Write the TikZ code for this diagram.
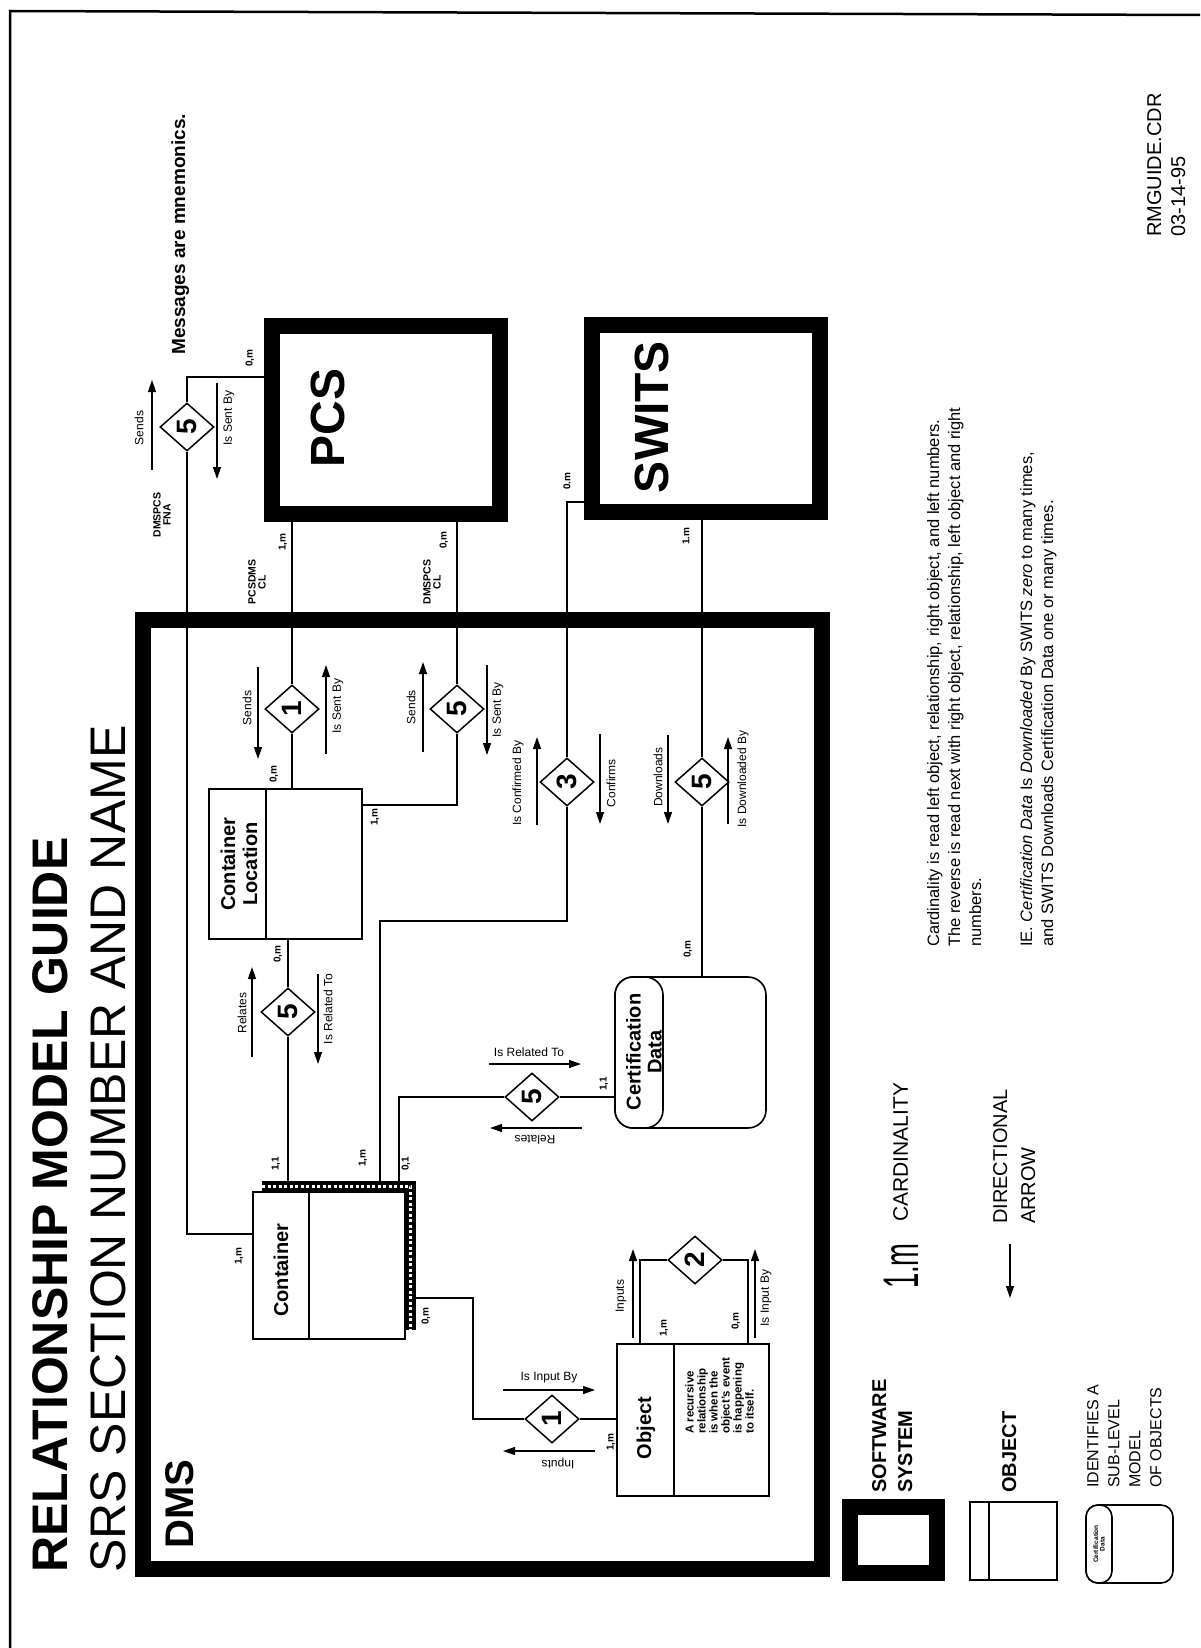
\documentclass[tikz,border=0pt]{standalone}
\usepackage{fontspec}
\setmainfont{Liberation Sans}
\usetikzlibrary{shapes.geometric, arrows.meta}

\begin{document}
\begin{tikzpicture}[
  x=1pt, y=1pt,
  every node/.style={inner sep=0pt, align=center},
  sys/.style={rectangle, draw=black, line width=16pt},
  obj/.style={rectangle, draw=black, line width=1.6pt, fill=white},
  subobj/.style={rectangle, draw=black, line width=1.6pt, fill=white, rounded corners=18pt},
  rel/.style={diamond, draw=black, line width=1.5pt, fill=white, rotate=90,
    minimum width=48pt, minimum height=54pt, font=\bfseries\fontsize{28}{28}\selectfont},
  conn/.style={line width=1.5pt},
  dirarrow/.style={line width=1.3pt, -{Triangle[length=12pt, width=8pt]}},
  lbl/.style={rotate=90, font=\fontsize{12}{13}\selectfont},
  card/.style={rotate=90, font=\bfseries\fontsize{10}{11}\selectfont},
  msg/.style={rotate=90, font=\bfseries\fontsize{10.5}{10}\selectfont},
  objname/.style={rotate=90, font=\bfseries\fontsize{20}{22}\selectfont},
  bigname/.style={rotate=90, font=\bfseries\fontsize{48}{50}\selectfont},
  legtxt/.style={rotate=90, anchor=north west, align=left},
  hatch/.style={white, line width=3pt, dash pattern=on 3pt off 2.5pt}
]
\useasboundingbox (0,0) rectangle (1200,-1648);

% page frame
\draw[line width=2.5pt] (10,-1648) -- (10,-11) -- (1200,-15);

% headings
\node[rotate=90, anchor=base west, font=\bfseries\fontsize{50}{50}\selectfont] (title) at (67,-1573) {RELATIONSHIP MODEL GUIDE};
\node[rotate=90, anchor=base west, font=\fontsize{50}{50}\selectfont] (srs) at (125,-1573) {SRS SECTION NUMBER AND NAME};
\node[rotate=90, anchor=base west, font=\bfseries\fontsize{19}{19}\selectfont] (mnemo) at (185,-355) {Messages are mnemonics.};

% software systems
\node[sys, minimum width=679pt, minimum height=949pt] (dms) at (482.5,-1094.5) {};
\node[rotate=90, anchor=base west, font=\bfseries\fontsize{40}{40}\selectfont] (dmsname) at (193,-1549) {DMS};
\node[sys, minimum width=228pt, minimum height=188pt] (pcs) at (386,-420) {};
\node[bigname] (pcsname) at (328,-418) {PCS};
\node[sys, minimum width=228pt, minimum height=187pt] (swits) at (706,-418.5) {};
\node[bigname] (switsname) at (652,-417) {SWITS};

% objects
\node[obj, minimum width=153pt, minimum height=150pt] (cl) at (285.5,-864) {};
\draw[line width=1.6pt] ([xshift=58pt]cl.north west) -- ([xshift=58pt]cl.south west);
\node[objname] (clname) at (239,-864) {Container\\Location};

\node[obj, minimum width=152pt, minimum height=147pt, fill=black] (contsh) at (339,-1255.5) {};
\draw[hatch] ([yshift=-5pt]contsh.north west) -- ([shift={(-5pt,-5pt)}]contsh.north east) -- ([xshift=-5pt]contsh.south east);
\node[obj, minimum width=152pt, minimum height=147pt] (cont) at (329,-1265.5) {};
\draw[line width=1.6pt] ([xshift=57pt]cont.north west) -- ([xshift=57pt]cont.south west);
\node[objname] (contname) at (281,-1270) {Container};

\node[obj, minimum width=152pt, minimum height=152pt] (obj) at (693,-1420) {};
\draw[line width=1.6pt] ([xshift=58pt]obj.north west) -- ([xshift=58pt]obj.south west);
\node[objname] (objname) at (646,-1428) {Object};
\node[legtxt, font=\bfseries\fontsize{11.5}{12}\selectfont] (objnote) at (685,-1434) {A recursive\\relationship\\is when the\\object's event\\is happening\\to itself.};

\node[subobj, minimum width=151pt, minimum height=151pt] (cert) at (690.5,-1052.5) {};
\node[subobj, minimum width=48pt, minimum height=151pt, anchor=west] (certcap) at (cert.west) {};
\node[objname, font=\bfseries\fontsize{20}{21}\selectfont] (certname) at (644,-1052) {Certification\\Data};

% relationships
\node[rel] (d5a) at (187,-427) {5};
\node[rel] (d1a) at (292,-709) {1};
\node[rel] (d5b) at (457,-709) {5};
\node[rel] (d3) at (567,-782) {3};
\node[rel] (d5c) at (702,-782) {5};
\node[rel] (d5d) at (288,-1012) {5};
\node[rel] (d5e) at (532,-1097) {5};
\node[rel] (d1b) at (552,-1419) {1};
\node[rel] (d2) at (695,-1260) {2};

% connectors
\coordinate (k1) at (187,-377);
\coordinate (k2) at (187,-1234);
\coordinate (k3) at (457,-805);
\coordinate (k4) at (567,-502);
\coordinate (k5) at (380,-921);
\coordinate (k6) at (399,-1097);
\coordinate (k7) at (473,-1298);
\coordinate (k8) at (640,-1260);
\coordinate (k9) at (748,-1260);
\draw[conn] (pcs.west |- k1) -- (k1) -- (d5a) -- (k2) -- (cont.west |- k2);
\draw[conn] (pcs.south -| d1a) -- (d1a) -- (cl.north -| d1a);
\draw[conn] (pcs.south -| d5b) -- (d5b) -- (k3) -- (cl.east |- k3);
\draw[conn] (swits.west |- k4) -- (k4) -- (d3);
\draw[conn] (d3) |- (k5) -- (contsh.north -| k5);
\draw[conn] (swits.south -| d5c) -- (d5c) -- (cert.north -| d5c);
\draw[conn] (cl.south -| d5d) -- (d5d) -- (contsh.north -| d5d);
\draw[conn] (contsh.north -| k6) -- (k6) -- (d5e) -- (cert.west |- d5e);
\draw[conn] (contsh.east |- k7) -- (k7) |- (d1b) -- (obj.west |- d1b);
\draw[conn] (obj.north -| k8) -- (k8) -- (d2) -- (k9) -- (obj.north -| k9);

% message labels
\node[msg] (fna) at (162,-515) {DMSPCS\\FNA};
\node[msg] (pcscl) at (257,-582) {PCSDMS\\CL};
\node[msg] (dmscl) at (432,-582) {DMSPCS\\CL};

% cardinality
\node[card] (ca1) at (250,-358) {0,m};
\node[card] (ca2) at (239,-1256) {1,m};
\node[card] (cb1) at (283,-542) {1,m};
\node[card] (cb2) at (274,-774) {0,m};
\node[card] (cc1) at (444,-540) {0,m};
\node[card] (cc2) at (375,-817) {1,m};
\node[card] (cd1) at (567,-481) {0.m};
\node[card] (cd2) at (363,-1158) {1,m};
\node[card] (ce1) at (686,-536) {1.m};
\node[card] (ce2) at (688,-949) {0,m};
\node[card] (cf1) at (278,-954) {0,m};
\node[card] (cf2) at (276,-1164) {1,1};
\node[card] (cg1) at (406,-1164) {0,1};
\node[card] (cg2) at (604,-1084) {1,1};
\node[card] (ch1) at (426,-1316) {0,m};
\node[card] (ch2) at (611,-1442) {1,m};
\node[card] (ci1) at (664,-1328) {1,m};
\node[card] (ci2) at (736,-1321) {0,m};

% directional arrows
\draw[dirarrow] ([shift={(-35,-43)}]d5a.center) -- ++(0,90);
\draw[dirarrow] ([shift={(30,44)}]d5a.center) -- ++(0,-96);
\draw[dirarrow] ([shift={(-34,42)}]d1a.center) -- ++(0,-92);
\draw[dirarrow] ([shift={(34,-45)}]d1a.center) -- ++(0,89);
\draw[dirarrow] ([shift={(-34,-43)}]d5b.center) -- ++(0,90);
\draw[dirarrow] ([shift={(30,44)}]d5b.center) -- ++(0,-90);
\draw[dirarrow] ([shift={(-30,-43)}]d3.center) -- ++(0,88);
\draw[dirarrow] ([shift={(33,48)}]d3.center) -- ++(0,-90);
\draw[dirarrow] ([shift={(-34,47)}]d5c.center) -- ++(0,-89);
\draw[dirarrow] ([shift={(26,-42)}]d5c.center) -- ++(0,87);
\draw[dirarrow] ([shift={(-36,-45)}]d5d.center) -- ++(0,90);
\draw[dirarrow] ([shift={(30,38)}]d5d.center) -- ++(0,-90);
\draw[dirarrow] ([shift={(-43,33)}]d5e.center) -- ++(92,0);
\draw[dirarrow] ([shift={(50,-31)}]d5e.center) -- ++(-92,0);
\draw[dirarrow] ([shift={(-49,29)}]d1b.center) -- ++(92,0);
\draw[dirarrow] ([shift={(43,-32)}]d1b.center) -- ++(-92,0);
\draw[dirarrow] ([shift={(-62,-78)}]d2.center) -- ++(0,89);
\draw[dirarrow] ([shift={(60,-78)}]d2.center) -- ++(0,89);

% relationship names
\node[lbl] (sendsa) at (139,-428) {Sends};
\node[lbl] (sentbya) at (229,-418) {Is Sent By};
\node[lbl] (sendsb) at (247,-708) {Sends};
\node[lbl] (sentbyb) at (338,-706) {Is Sent By};
\node[lbl] (sendsc) at (411,-707) {Sends};
\node[lbl] (sentbyc) at (498,-710) {Is Sent By};
\node[lbl] (confby) at (518,-783) {Is Confirmed By};
\node[lbl] (confirms) at (611,-783) {Confirms};
\node[lbl] (downloads) at (658,-777) {Downloads};
\node[lbl] (downby) at (743,-779) {Is Downloaded By};
\node[lbl] (relatesa) at (242,-1013) {Relates};
\node[lbl] (reltoa) at (328,-1009) {Is Related To};
\node[lbl, rotate=-90] (reltob) at (529,-1052) {Is Related To};
\node[lbl, rotate=90] (relatesb) at (535,-1140) {Relates};
\node[lbl, rotate=-90] (inputbya) at (549,-1378) {Is Input By};
\node[lbl, rotate=90] (inputsa) at (558,-1463) {Inputs};
\node[lbl] (inputsb) at (621,-1296) {Inputs};
\node[lbl] (inputbyb) at (766,-1298) {Is Input By};

% legend
\node[sys, minimum width=87pt, minimum height=66pt] (legsys) at (893.5,-1540) {};
\node[legtxt, font=\bfseries\fontsize{20}{26}\selectfont] (legsystxt) at (872,-1493) {SOFTWARE\\SYSTEM};
\node[obj, minimum width=87pt, minimum height=78pt] (legobj) at (1013.5,-1541) {};
\draw[line width=1.6pt] ([xshift=20pt]legobj.north west) -- ([xshift=20pt]legobj.south west);
\node[legtxt, font=\bfseries\fontsize{20}{22}\selectfont] (legobjtxt) at (1002,-1493) {OBJECT};
\node[subobj, rounded corners=12pt, minimum width=87pt, minimum height=78pt] (legsub) at (1129.5,-1544) {};
\node[subobj, rounded corners=12pt, minimum width=26pt, minimum height=78pt, anchor=west] (legcap) at (legsub.west) {};
\node[rotate=90, font=\bfseries\fontsize{6.5}{6.5}\selectfont] (legcapname) at (legcap) {Certification\\Data};
\node[legtxt, font=\fontsize{16}{21}\selectfont] (legsubtxt) at (1087,-1488) {IDENTIFIES A\\SUB-LEVEL\\MODEL\\OF OBJECTS};
\node[rotate=90, font=\fontsize{50}{50}\selectfont] (legcard) at (901,-1266) {\scalebox{0.55}[1]{1.m}};
\node[legtxt, font=\fontsize{21}{24}\selectfont] (legcardtxt) at (893,-1222) {CARDINALITY};
\coordinate (legarr) at (1010,-1244);
\draw[dirarrow] (legarr) -- ++(0,-54);
\node[legtxt, font=\fontsize{20}{28}\selectfont] (legarrtxt) at (993,-1224) {DIRECTIONAL\\ARROW};

% notes
\node[legtxt, font=\fontsize{16.5}{21}\selectfont] (cardnote) at (927,-947) {Cardinality is read left object, relationship, right object, and left numbers.\\The reverse is read next with right object, relationship, left object and right\\numbers.};
\node[legtxt, font=\fontsize{16.5}{21}\selectfont] (ienote) at (1020,-947) {IE. \textit{Certification Data} Is \textit{Downloaded} By SWITS \textit{zero} to many times,\\and SWITS Downloads Certification Data one or many times.};
\node[legtxt, font=\fontsize{20}{24}\selectfont] (fileid) at (1147,-237) {RMGUIDE.CDR\\03-14-95};

\end{tikzpicture}
\end{document}
